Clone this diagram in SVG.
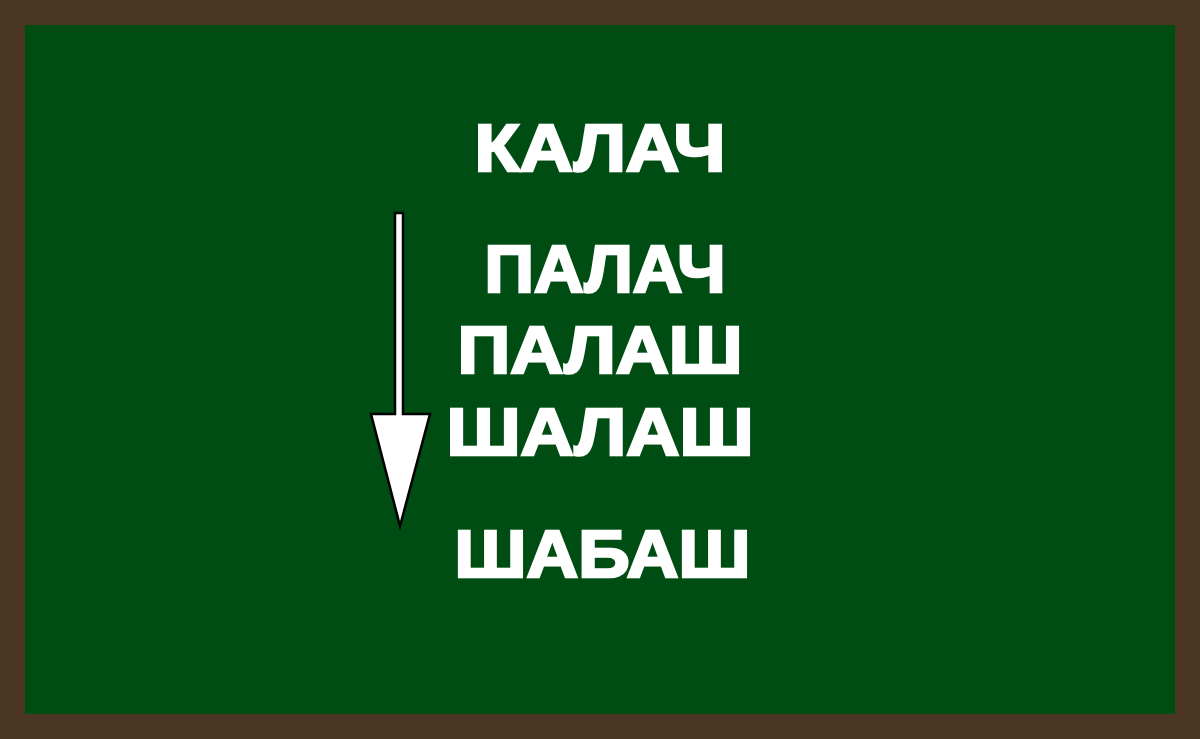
<svg xmlns="http://www.w3.org/2000/svg" width="1200" height="739" viewBox="0 0 1200 739">
<style>
.w{font-family:"Liberation Sans","DejaVu Sans",Arial,sans-serif;font-weight:bold;font-size:67px;fill:#ffffff;stroke:#ffffff;stroke-width:2.6;stroke-linejoin:miter;text-anchor:middle}
</style>
<rect x="0" y="0" width="1200" height="739" fill="#4a3623"/>
<rect x="25" y="25" width="1150" height="689" fill="#004d14"/>
<g id="connectors">
<path d="M395,213 H403 V414 H430 L400,526 L371,414 H395 Z" fill="#ffffff" stroke="#000000" stroke-width="2.5" stroke-linejoin="miter"/>
</g>
<g id="w1"><text class="w" x="600" y="171" textLength="251" lengthAdjust="spacingAndGlyphs">КАЛАЧ</text></g>
<g id="w2"><text class="w" x="605" y="292" textLength="241" lengthAdjust="spacingAndGlyphs">ПАЛАЧ</text></g>
<g id="w3"><text class="w" x="600" y="373" textLength="285" lengthAdjust="spacingAndGlyphs">ПАЛАШ</text></g>
<g id="w4"><text class="w" x="600" y="455" textLength="307" lengthAdjust="spacingAndGlyphs">ШАЛАШ</text></g>
<g id="w5"><text class="w" x="602.5" y="577" textLength="296" lengthAdjust="spacingAndGlyphs">ШАБАШ</text></g>
</svg>
